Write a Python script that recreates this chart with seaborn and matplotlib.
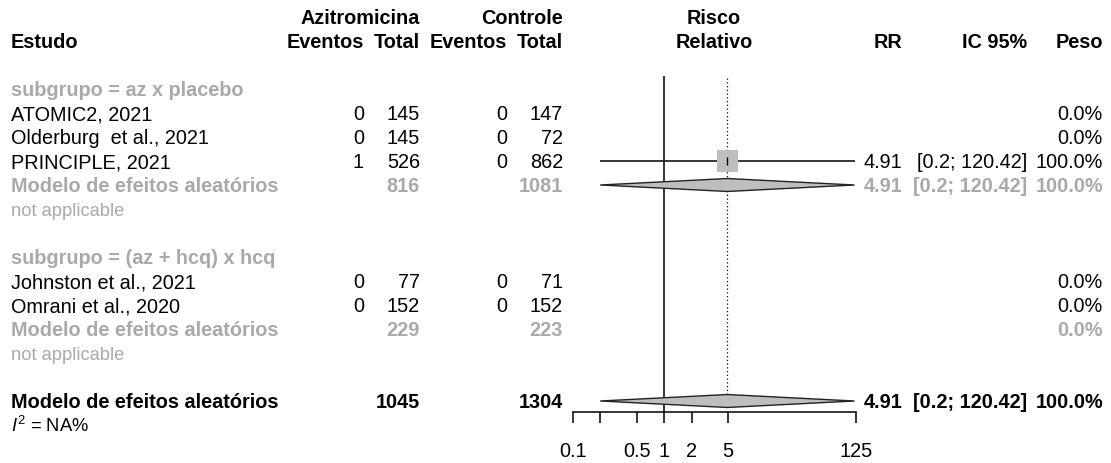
import numpy as np
import pandas as pd
import seaborn as sns
import matplotlib.pyplot as plt
from matplotlib.ticker import NullLocator

# Study level data
estudos = ["ATOMIC2, 2021", "Olderburg  et al., 2021", "PRINCIPLE, 2021",
           "Johnston et al., 2021", "Omrani et al., 2020"]
subgrupos = ["az x placebo", "az x placebo", "az x placebo",
             "(az + hcq) x hcq", "(az + hcq) x hcq"]
ev_az = [0, 0, 1, 0, 0]
n_az = [145, 145, 526, 77, 152]
ev_ctl = [0, 0, 0, 0, 0]
n_ctl = [147, 72, 862, 71, 152]
rr = [np.nan, np.nan, 4.91, np.nan, np.nan]
ic_inf = [np.nan, np.nan, 0.2, np.nan, np.nan]
ic_sup = [np.nan, np.nan, 120.42, np.nan, np.nan]
peso = [0.0, 0.0, 100.0, 0.0, 0.0]

# Random effects model per subgroup and overall
sub_nomes = ["az x placebo", "(az + hcq) x hcq"]
sub_rr = [4.91, np.nan]
sub_inf = [0.2, np.nan]
sub_sup = [120.42, np.nan]
sub_peso = [100.0, 0.0]
tot_rr, tot_inf, tot_sup, tot_peso = 4.91, 0.2, 120.42, 100.0

ticks = [0.1, 0.2, 0.5, 1, 2, 5, 125]
tick_labels = ["0.1", "", "0.5", "1", "2", "5", "125"]

df = pd.DataFrame({"estudo": estudos, "subgrupo": subgrupos, "ev_az": ev_az, "n_az": n_az,
                   "ev_ctl": ev_ctl, "n_ctl": n_ctl, "rr": rr, "inf": ic_inf,
                   "sup": ic_sup, "peso": peso})

sns.set_theme(style="white")
plt.rcParams['font.family'] = ['Liberation Sans', 'DejaVu Sans']
plt.rcParams['mathtext.fontset'] = 'custom'
plt.rcParams['mathtext.rm'] = 'Liberation Sans'
plt.rcParams['mathtext.it'] = 'Liberation Sans:italic'

GRAY = '#A9A9A9'
FILL = '#BEBEBE'
FS, FS_SMALL = 14.3, 13.2
W, H = 1111, 463
ROW0, ROWH = 89, 24  # pixel y of first row and row height


def prow(py):
    return (py - ROW0) / ROWH


fig = plt.figure(figsize=(W / 100, H / 100), dpi=100)
tx = fig.add_axes([0, 0, 1, 1])
tx.set_xlim(0, W)
tx.set_ylim(prow(H), prow(0))
tx.axis('off')

AX_L, AX_R, AX_B = 572.7, 856.0, 411.7
ax = fig.add_axes([AX_L / W, (H - AX_B) / H, (AX_R - AX_L) / W, AX_B / H])
ax.patch.set_alpha(0)


def txt(x, row, s, ha='left', bold=False, color='black', size=FS):
    off = 0.716 * size * 100 / 72 / 2 / ROWH
    tx.text(x, row + off, s, ha=ha, va='baseline', fontsize=size,
            fontweight='bold' if bold else 'normal', color=color)


def fmt_ci(lo, hi):
    return f"[{lo:g}; {hi:g}]"


# columns
X_EST, X_EVA, X_NA, X_EVC, X_NC = 11, 364, 420, 507, 563
X_FOREST, X_RR, X_CI, X_W = 714, 902, 1027, 1103

# header
txt(X_EST, -2, "Estudo", bold=True)
txt(X_NA, -3, "Azitromicina", ha='right', bold=True)
txt(X_EVA, -2, "Eventos", ha='right', bold=True)
txt(X_NA, -2, "Total", ha='right', bold=True)
txt(X_NC, -3, "Controle", ha='right', bold=True)
txt(X_EVC, -2, "Eventos", ha='right', bold=True)
txt(X_NC, -2, "Total", ha='right', bold=True)
txt(X_FOREST, -3, "Risco", ha='center', bold=True)
txt(X_FOREST, -2, "Relativo", ha='center', bold=True)
txt(X_RR, -2, "RR", ha='right', bold=True)
txt(X_CI, -2, "IC 95%", ha='right', bold=True)
txt(X_W, -2, "Peso", ha='right', bold=True)

# layout rows
row = 0
study_rows = []
diamonds = []
for g, nome in enumerate(sub_nomes):
    txt(X_EST, row, f"subgrupo = {nome}", bold=True, color=GRAY)
    row += 1
    sub = df[df["subgrupo"] == nome]
    for i, r in sub.iterrows():
        study_rows.append((i, row))
        txt(X_EST, row, r["estudo"])
        txt(X_EVA, row, f"{r['ev_az']}", ha='right')
        txt(X_NA, row, f"{r['n_az']}", ha='right')
        txt(X_EVC, row, f"{r['ev_ctl']}", ha='right')
        txt(X_NC, row, f"{r['n_ctl']}", ha='right')
        if not np.isnan(r["rr"]):
            txt(X_RR, row, f"{r['rr']:.2f}", ha='right')
            txt(X_CI, row, fmt_ci(r["inf"], r["sup"]), ha='right')
        txt(X_W, row, f"{r['peso']:.1f}%", ha='right')
        row += 1
    txt(X_EST, row, "Modelo de efeitos aleatórios", bold=True, color=GRAY)
    txt(X_NA, row, f"{sub['n_az'].sum()}", ha='right', bold=True, color=GRAY)
    txt(X_NC, row, f"{sub['n_ctl'].sum()}", ha='right', bold=True, color=GRAY)
    if not np.isnan(sub_rr[g]):
        txt(X_RR, row, f"{sub_rr[g]:.2f}", ha='right', bold=True, color=GRAY)
        txt(X_CI, row, fmt_ci(sub_inf[g], sub_sup[g]), ha='right', bold=True, color=GRAY)
        diamonds.append((sub_rr[g], sub_inf[g], sub_sup[g], row))
    txt(X_W, row, f"{sub_peso[g]:.1f}%", ha='right', bold=True, color=GRAY)
    row += 1
    txt(X_EST, row, "not applicable", color=GRAY, size=FS_SMALL)
    row += 2

txt(X_EST, row, "Modelo de efeitos aleatórios", bold=True)
txt(X_NA, row, f"{df['n_az'].sum()}", ha='right', bold=True)
txt(X_NC, row, f"{df['n_ctl'].sum()}", ha='right', bold=True)
txt(X_RR, row, f"{tot_rr:.2f}", ha='right', bold=True)
txt(X_CI, row, fmt_ci(tot_inf, tot_sup), ha='right', bold=True)
txt(X_W, row, f"{tot_peso:.1f}%", ha='right', bold=True)
diamonds.append((tot_rr, tot_inf, tot_sup, row))
tot_row = row
txt(X_EST, row + 1, r"$I^2$ = NA%", size=FS_SMALL)

# forest panel
ax.set_xscale('log')
ax.set_xlim(ticks[0], ticks[-1])
ax.set_ylim(prow(AX_B), prow(0))
ax.vlines(1, prow(76), prow(AX_B), color='black', lw=1.1, zorder=2)
ax.vlines(tot_rr, prow(78), tot_row - 0.27, color='black', lw=0.9,
          linestyles=(0, (1, 2)), zorder=2)

df["row"] = [dict(study_rows)[i] for i in df.index]
pts = df[df["rr"].notna()]
ax.hlines(pts["row"], pts["inf"], pts["sup"], color='black', lw=1.1, zorder=3)
sns.scatterplot(data=pts, x="rr", y="row", marker='s', s=pts["peso"] * 2.45,
                color=FILL, edgecolor='none', legend=False, ax=ax, zorder=4)
ax.scatter(pts["rr"], pts["row"], marker='|', s=30, color='black', lw=1, zorder=5)

for est, lo, hi, r in diamonds:
    h = 0.27
    ax.fill([lo, est, hi, est], [r, r - h, r, r + h], facecolor=FILL,
            edgecolor='#222222', lw=1, zorder=4)

for s in ['top', 'left', 'right']:
    ax.spines[s].set_visible(False)
ax.spines['bottom'].set_color('black')
ax.spines['bottom'].set_linewidth(1.1)
ax.set_xticks(ticks)
ax.set_xticklabels(tick_labels)
ax.xaxis.set_minor_locator(NullLocator())
ax.set_yticks([])
ax.set_xlabel("")
ax.set_ylabel("")
ax.tick_params(axis='x', direction='out', length=8, width=1.1, color='black',
               pad=13.5, labelsize=FS, labelcolor='black', bottom=True)

fig.savefig('out.png', dpi=100)
